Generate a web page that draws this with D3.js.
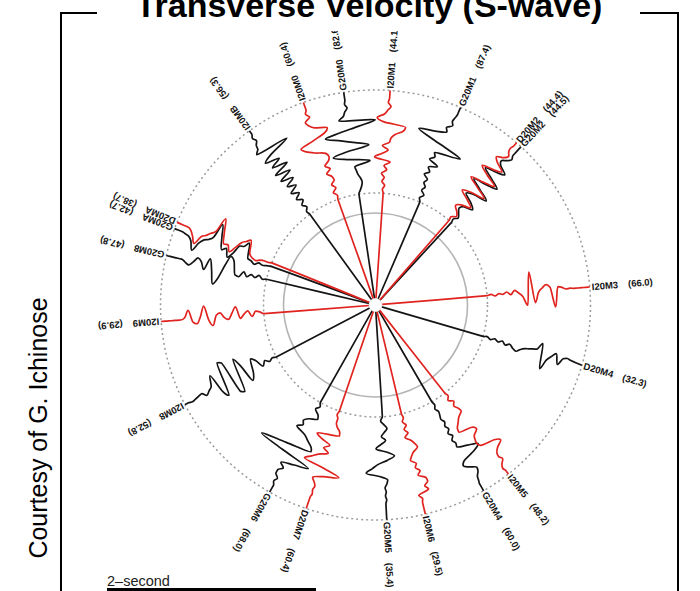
<!DOCTYPE html>
<html><head><meta charset="utf-8">
<script src="https://cdn.jsdelivr.net/npm/d3@7"></script>
<style>body{margin:0;background:#fff;} svg{display:block;font-family:"Liberation Sans",Arial,Helvetica,sans-serif;}</style>
</head><body><svg id="c" width="700" height="591"></svg>
<script>
// ---- data ----
const stations = ["I20M3","D20M4","I20M5","G20M4","I20M6","G20M5","D20M7","G20M6","I20M8","I20M9","G20M8","G20MA","D20MA","I20MB","I20M0","G20M0","I20M1","G20M1","G20M2","D20M2"];
const peakValues = [66.0,32.3,48.2,60.0,29.5,35.4,60.4,68.0,52.8,29.9,47.8,42.7,38.7,56.3,60.4,82.6,44.1,87.4,44.5,44.4];
const azimuths = [355.2,16.3,51.8,59.8,76.6,87.0,108.8,119.5,152.4,175.6,193.3,200.8,202.6,234.1,250.4,261.5,273.9,293.3,312.6,311.0];
const traceSet = ["red","black","red","black","red","black","red","black","black","red","black","black","red","black","red","black","red","black","black","red"];

const w_I20M3 = [0,1,-1,1,0,2,-1,3,0,-4,-13,20,-11,-1,3,6,3,-17,3,2,0,0.5,0,0,0,0,0];
const w_D20M4 = [0,1,-1,1,-1,1,-2,0,-3,-5,-2,0,1,2,3,10,-15,-5,0,4,-6,1,2.5,1.5,1,0.5,0];
const w_I20M5 = [0,1,-2,2,-1,1,2,-4,-8,-12,-13,0,3,-3,-5,-6,-4,10,15,8,4,3,5,1,-1,0,0];
const w_G20M4 = [0,1,-1,1,0,-1,1,-1,1,-2,1,-2,0,-1,9,19,12,-2,-5,0,6,5,2,1,0,0,0];
const w_I20M6 = [0,1,-1,2,-1,2,-2,3,6,8,3,0,-2,3,1,5,2,9,10,6,9,-2,1,0,0,0,0];
const w_G20M5 = [1,-1,2,5,2,-1,3,-2,-7,4,11,4,-6,-12,-18,-5,3,2,0,1,0,1,0,0,0,0,0];
const w_D20M7 = [0,-1,1,1,3,7,8,-14,-8,2,-3,3,-6,-12,-18,4,21,6,-4,-1,1,0,1,0,0,0,0];
const w_G20M6 = [0,2,-1,4,6,-2,-6,-4,-9,2,8,14,16,-10,-36,-10,22,8,-5,0,-4,-4,0,-2,0,0,0];
const w_I20M8 = [0,-1,1,-2,2,-6,-10,4,10,-8,-18,16,14,-20,-22,12,6,-14,-4,-1,2,-2,-1,0,1,0,0];
const w_I20M9 = [0,-2,-3,2,-4,-1,3,-9,-3,3,1,-4,-2,8,2,-12,-2,5,3,-9,-2,0,0,0,0,0,0];
const w_G20M8 = [0,1,-2,1,-1,2,-2,4,3,-10,-14,-4,10,17,4,-7,5,-2,-5,0,4,2,0,0,0,0,0];
const w_G20MA = [1,2,3,2,5,3,2,-13,-8,-7,2,8,0,3,-8,-21,-6,-2,0,5,14,6,2,1,0,0,0];
const w_D20MA = [1,2,2,3,5,4,1,-12,-9,-6,1,7,1,2,-9,-22,-7,-3,1,4,13,7,2,0,0,0,0];
const w_I20MB = [0,1,-2,1,-3,2,-4,3,-6,2,-8,4,-10,5,-12,3,-8,6,-4,-26,8,4,3,0,2,0,0];
const w_I20M0 = [0,-1,2,-2,1,-3,-2,2,-3,1,-4,-6,-4,6,14,18,4,-10,-14,-2,3,5,-1,2,0,0,0];
const w_G20M0 = [0,-2,-4,-5,-4,-2,-1,0,-16,4,20,6,-17,-4,10,25,10,-10,-27,9,4,2,-1,1,0,0,0];
const w_I20M1 = [0,1,-1,2,0,3,-2,1,-5,11,4,-2,4,-3,-4,-8,-16,-18,4,11,4,1,-2,1,0,0,0];
const w_G20M1 = [0,2,-1,3,1,4,2,7,3,6,-2,8,4,6,-20,-5,15,30,14,3,5,0,2,1,0,0,0];
const w_G20M2 = [0,1,-2,1,4,2,-7,-1,9,3,-11,1,13,0,-11,0,12,1,-7,2,5,1,-2,0,0,0,0];
const w_D20M2 = [0,1,-3,0,5,1,-8,0,10,2,-12,0,12,-1,-12,1,11,0,-8,1,6,0,-3,0,1,0,0];

const waveforms = [w_I20M3,w_D20M4,w_I20M5,w_G20M4,w_I20M6,w_G20M5,w_D20M7,w_G20M6,w_I20M8,w_I20M9,w_G20M8,w_G20MA,w_D20MA,w_I20MB,w_I20M0,w_G20M0,w_I20M1,w_G20M1,w_G20M2,w_D20M2];

const titleText = "Transverse Velocity (S-wave)";
const creditText = "Courtesy of G. Ichinose";
const scaleBarText = "2\u2013second";

// ---- layout ----
const cx = 375.5, cy = 305;
const rInnerSolid = 92, rStart = 112, rEnd = 215, rHub = 6.5;
const svg = d3.select("#c");

const colour = d3.scaleOrdinal().domain(["black","red"]).range(["#141414","#e0231f"]);
const nSamples = w_I20M3.length;
const rScale = d3.scaleLinear().domain([0, nSamples - 1]).range([rStart, rEnd]);
const ampScale = d3.scaleLinear().domain([-1, 1]).range([1, -1]);

// frame
svg.append("path")
  .attr("d", "M61,592 V13 H97 M640,13 H678 V592")
  .attr("fill", "none").attr("stroke", "#000").attr("stroke-width", 2);

// title
svg.append("text").attr("x", 369).attr("y", 17).attr("text-anchor", "middle")
  .attr("font-size", 34).attr("font-weight", "bold").attr("fill", "#000").text(titleText);

// credit
svg.append("text").attr("transform", "translate(47,428) rotate(-90)").attr("text-anchor", "middle")
  .attr("font-size", 25).attr("fill", "#000").text(creditText);

// plot
svg.append("clipPath").attr("id", "plotclip").append("rect")
  .attr("x", 62).attr("y", 31).attr("width", 615).attr("height", 570);
const plot = svg.append("g").attr("clip-path", "url(#plotclip)");
const hubG = plot.append("g").attr("transform", `translate(${cx},${cy})`);

hubG.append("circle").attr("r", rInnerSolid).attr("fill", "none")
  .attr("stroke", "#b4b4b4").attr("stroke-width", 1.6);
[rStart, rEnd].forEach(r => {
  hubG.append("circle").attr("r", r).attr("fill", "none")
    .attr("stroke", "#9a9a9a").attr("stroke-width", 1.5).attr("stroke-dasharray", "2,3");
});

const line = d3.line().x(p => p[0]).y(p => p[1]).curve(d3.curveMonotoneX);

const order = d3.range(stations.length).sort((a, b) => (traceSet[a] === "red") - (traceSet[b] === "red"));
order.forEach(i => {
  const g = hubG.append("g").attr("transform", `rotate(${azimuths[i]})`);
  const pts = [[rHub, 0]].concat(waveforms[i].map((v, k) => [rScale(k), ampScale(v)]));
  g.append("path").attr("d", line(pts)).attr("fill", "none")
    .attr("stroke", colour(traceSet[i])).attr("stroke-width", 1.7).attr("stroke-linejoin", "round");
});

// labels
stations.forEach((s, i) => {
  const g = hubG.append("g").attr("transform", `rotate(${azimuths[i]})`);
  const t = g.append("text").attr("x", rEnd + 2).attr("y", 0).attr("dy", "0.35em")
    .attr("font-size", 9.5).attr("font-weight", "bold").attr("fill", "#151515").text(s);
  const w = t.node().getComputedTextLength();
  g.append("text").attr("x", rEnd + 2 + w + 10).attr("y", 0).attr("dy", "0.35em")
    .attr("font-size", 9.5).attr("font-weight", "bold").attr("fill", "#151515")
    .text("(" + d3.format(".1f")(peakValues[i]) + ")");
});

hubG.append("circle").attr("r", rHub).attr("fill", "#fff").attr("stroke", "#ddd").attr("stroke-width", 0.8);

// scale bar
svg.append("text").attr("x", 107).attr("y", 586).attr("font-size", 14.5).attr("fill", "#222").text(scaleBarText);
svg.append("line").attr("x1", 107).attr("x2", 316).attr("y1", 589.5).attr("y2", 589.5)
  .attr("stroke", "#000").attr("stroke-width", 3);
</script></body></html>
